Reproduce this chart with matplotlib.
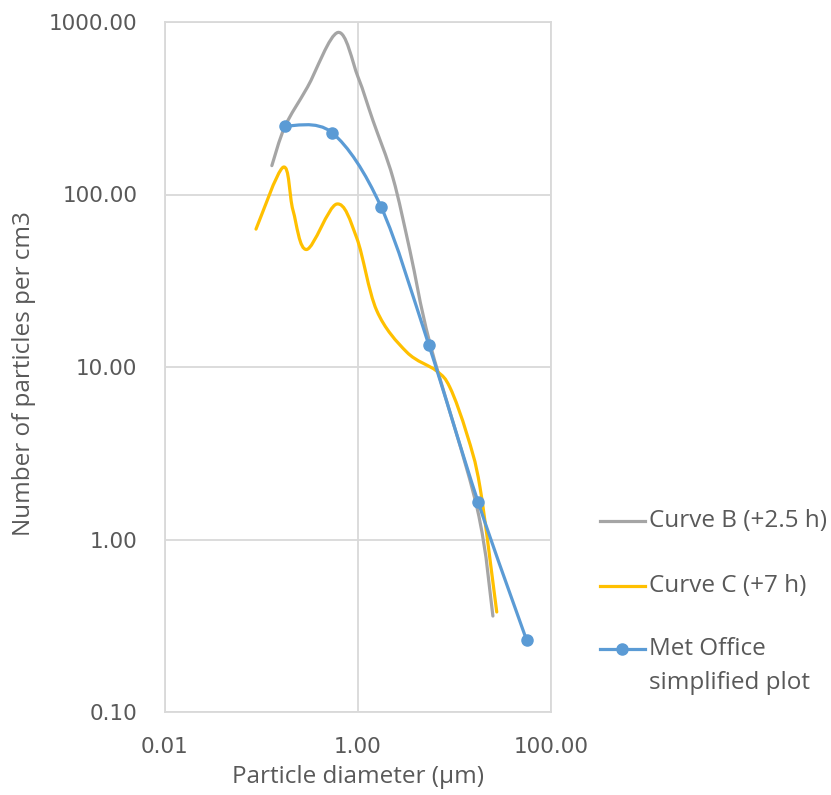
"""
Particle size distributions on log-log axes:
two measured curves and the simplified Met Office fit.
"""
import numpy as np
import matplotlib.pyplot as plt
from matplotlib.path import Path
from matplotlib.patches import PathPatch
from matplotlib.lines import Line2D
from matplotlib.ticker import FixedLocator, FuncFormatter, NullLocator


# diameter in um, number of particles per cm3
curve_b_d = [0.128, 0.175, 0.30, 0.62, 1.0, 1.43, 2.3, 3.46, 5.57, 17.1, 25.0]
curve_b_n = [147, 248, 420, 870, 480, 268, 125, 47, 13.7, 1.53, 0.36]

curve_c_d = [0.0877, 0.168, 0.212, 0.294, 0.60, 0.97, 1.56, 3.2, 6.5, 8.98, 13.4, 18.4, 27.4]
curve_c_n = [63, 144, 81, 48, 88, 56, 21.3, 12.2, 9.5, 7.6, 4.1, 2.0, 0.38]

met_d = [0.175, 0.54, 1.73, 5.4, 17.5, 56.0]
met_n = [250, 228, 85, 13.5, 1.66, 0.26]

labels = ["Curve B (+2.5 h)", "Curve C (+7 h)", "Met Office", "simplified plot"]

GREY = "#a5a5a5"
ORANGE = "#ffc000"
BLUE = "#5b9bd5"
TEXT = "#595959"
GRID = "#d9d9d9"
W, H = 831, 795


def smooth_path(xs, ys):
    # spreadsheet-style smoothed line: cubic bezier through every point,
    # tangents taken from the neighbours, worked out in log space
    lx = np.log10(xs)
    ly = np.log10(ys)
    n = len(lx)
    verts = [(lx[0], ly[0])]
    codes = [Path.MOVETO]
    for i in range(n - 1):
        p0 = np.array([lx[max(i - 1, 0)], ly[max(i - 1, 0)]])
        p1 = np.array([lx[i], ly[i]])
        p2 = np.array([lx[i + 1], ly[i + 1]])
        p3 = np.array([lx[min(i + 2, n - 1)], ly[min(i + 2, n - 1)]])
        c1 = p1 + (p2 - p0) / 6.0
        c2 = p2 - (p3 - p1) / 6.0
        verts += [tuple(c1), tuple(c2), tuple(p2)]
        codes += [Path.CURVE4] * 3
    verts = 10 ** np.array(verts)
    return Path(verts, codes)


fig = plt.figure(figsize=(W / 100, H / 100), dpi=100)
ax = fig.add_axes([165 / W, 1 - 712 / H, (551 - 165) / W, (712 - 22) / H])

ax.set_xscale("log")
ax.set_yscale("log")
ax.set_xlim(0.01, 100)
ax.set_ylim(0.1, 1000)

for xs, ys, col in [(curve_b_d, curve_b_n, GREY), (curve_c_d, curve_c_n, ORANGE),
                    (met_d, met_n, BLUE)]:
    ax.add_patch(PathPatch(smooth_path(xs, ys), fill=False, edgecolor=col,
                           lw=2.3, capstyle="round", joinstyle="round", zorder=3))
ax.plot(met_d, met_n, "o", color=BLUE, ms=8, zorder=4)

ax.xaxis.set_major_locator(FixedLocator([0.01, 1, 100]))
ax.yaxis.set_major_locator(FixedLocator([0.1, 1, 10, 100, 1000]))
ax.xaxis.set_minor_locator(NullLocator())
ax.yaxis.set_minor_locator(NullLocator())
ax.xaxis.set_major_formatter(FuncFormatter(lambda v, p: "0.01" if v < 0.1 else f"{v:.2f}"))
ax.yaxis.set_major_formatter(FuncFormatter(lambda v, p: f"{v:.2f}"))
ax.tick_params(length=0, labelsize=15.5, labelcolor=TEXT)
ax.tick_params(axis="y", pad=20)
ax.tick_params(axis="x", pad=18)

ax.grid(True, color=GRID, lw=1.3)
ax.set_axisbelow(True)
for s in ax.spines.values():
    s.set_color(GRID)
    s.set_linewidth(1.3)

ax.set_xlabel("Particle diameter (\u00b5m)", fontsize=17.5, color=TEXT, family="Open Sans")
ax.set_ylabel("Number of particles per cm3", fontsize=17.5, color=TEXT, family="Open Sans")
ax.xaxis.set_label_coords(0.5, (712 - 765) / 690)
ax.yaxis.set_label_coords((36 - 165) / 386, 0.49)

# legend drawn by hand on the figure
legend_rows = [(521, GREY, None), (586, ORANGE, None), (649, BLUE, "o")]
for y, col, mk in legend_rows:
    fy = 1 - y / H
    fig.add_artist(Line2D([600 / W, 645 / W], [fy, fy], color=col, lw=2.3,
                          transform=fig.transFigure))
    if mk:
        fig.add_artist(Line2D([622 / W], [fy], color=col, marker=mk, ms=8,
                              transform=fig.transFigure))
for lab, y in zip(labels, [521, 586, 649, 683]):
    fig.text(649 / W, 1 - y / H, lab, fontsize=17.5, color=TEXT, family="Open Sans",
             va="center", ha="left")

fig.savefig("out.png", dpi=100)
